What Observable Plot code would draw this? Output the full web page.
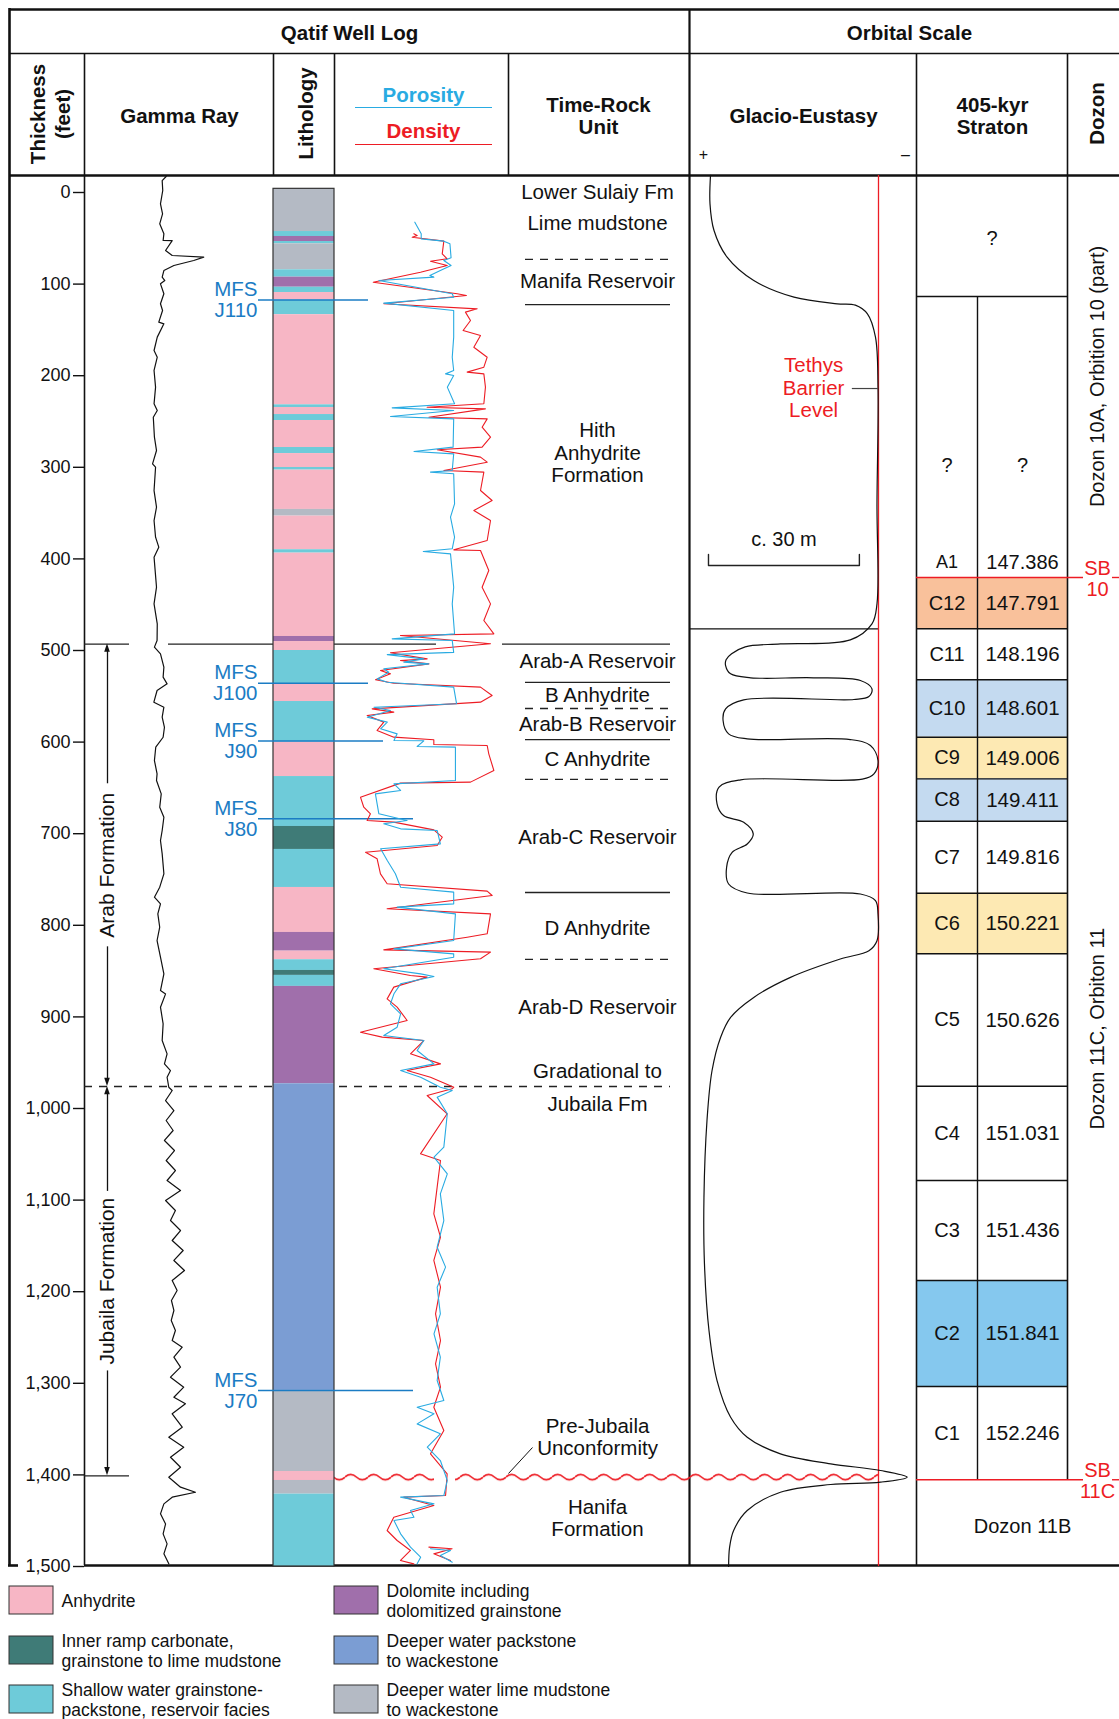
<!DOCTYPE html>
<html><head><meta charset="utf-8">
<script src="https://cdn.jsdelivr.net/npm/d3@7"></script>
<script src="https://cdn.jsdelivr.net/npm/@observablehq/plot@0.6"></script>
<style>
body{margin:0;background:#fff;}
#chart{position:relative;width:1119px;height:1719px;overflow:hidden;}
#chart svg{position:absolute;top:0;}
</style></head><body><div id="chart"></div>
<script>
// ---------------- DATA ----------------
const depthTicks = [0,100,200,300,400,500,600,700,800,900,1000,1100,1200,1300,1400,1500];

const lithology = [
 {top:-4,base:42.6,facies:"mudstone"},{top:42.6,base:48,facies:"shallow"},{top:48,base:53.5,facies:"dolomite"},
 {top:53.5,base:56,facies:"shallow"},{top:56,base:84.4,facies:"mudstone"},{top:84.4,base:92.4,facies:"shallow"},
 {top:92.4,base:103.4,facies:"dolomite"},{top:103.4,base:109.2,facies:"shallow"},{top:109.2,base:117.4,facies:"anhydrite"},
 {top:117.4,base:133.4,facies:"shallow"},{top:133.4,base:231.8,facies:"anhydrite"},{top:231.8,base:234.7,facies:"shallow"},
 {top:234.7,base:242.4,facies:"anhydrite"},{top:242.4,base:248.9,facies:"shallow"},{top:248.9,base:278.4,facies:"anhydrite"},
 {top:278.4,base:285,facies:"shallow"},{top:285,base:300.2,facies:"anhydrite"},{top:300.2,base:303.1,facies:"shallow"},
 {top:303.1,base:346,facies:"anhydrite"},{top:346,base:353.3,facies:"mudstone"},{top:353.3,base:390,facies:"anhydrite"},
 {top:390,base:393.7,facies:"shallow"},{top:393.7,base:484.7,facies:"anhydrite"},{top:484.7,base:490.2,facies:"dolomite"},
 {top:490.2,base:500,facies:"anhydrite"},{top:500,base:536.4,facies:"shallow"},{top:536.4,base:555.7,facies:"anhydrite"},
 {top:555.7,base:600.1,facies:"shallow"},{top:600.1,base:637.6,facies:"anhydrite"},{top:637.6,base:692.1,facies:"shallow"},
 {top:692.1,base:717.2,facies:"innerRamp"},{top:717.2,base:758.7,facies:"shallow"},{top:758.7,base:807.8,facies:"anhydrite"},
 {top:807.8,base:828.2,facies:"dolomite"},{top:828.2,base:837.6,facies:"anhydrite"},{top:837.6,base:849.3,facies:"shallow"},
 {top:849.3,base:854.7,facies:"innerRamp"},{top:854.7,base:866.7,facies:"shallow"},{top:866.7,base:973,facies:"dolomite"},
 {top:973,base:1307.8,facies:"packstone"},{top:1307.8,base:1396.3,facies:"mudstone"},{top:1396.3,base:1406.1,facies:"anhydrite"},
 {top:1406.1,base:1421,facies:"mudstone"},{top:1421,base:1500,facies:"shallow"}
];

const legendOrder = ["anhydrite","innerRamp","shallow","dolomite","packstone","mudstone"];
const legendLabels = {
 anhydrite:"Anhydrite",
 innerRamp:"Inner ramp carbonate,\ngrainstone to lime mudstone",
 shallow:"Shallow water grainstone-\npackstone, reservoir facies",
 dolomite:"Dolomite including\ndolomitized grainstone",
 packstone:"Deeper water packstone\nto wackestone",
 mudstone:"Deeper water lime mudstone\nto wackestone"
};

// gamma ray [depth ft, API]
const gammaRay = [
 [-17.5,43.2],[-13,41.1],[-2.2,41.4],[12.4,40.2],[23.3,41.3],[34.2,39.8],[45.1,42],[52.4,41.6],[52.6,46.4],[63.3,42.9],
 [68.8,46.4],[70.6,63.1],[74.2,57.8],[79.7,47.3],[85.2,42],[92.4,41.1],[96.1,42.5],[99.7,40.2],[110.6,42],[121.5,40.2],
 [128.8,41.3],[141.5,39.3],[143.4,42],[157.9,38.5],[172.5,36.8],[179.8,38.5],[194.3,36.8],[212.5,37.6],[230.7,36.8],
 [238,38.5],[245.3,36.4],[267.1,37],[281.7,38.1],[296.2,36],[299.9,37.6],[325.4,36.8],[343.5,38.1],[358.1,36.8],
 [376.3,37.6],[387.2,39.3],[398.1,36.8],[430.9,38.1],[449.1,36.8],[470.9,38.5],[489.1,38.4],[496.3,37],[503.6,40.2],
 [518.2,42],[529.1,41.6],[536.4,43.7],[543.7,38.4],[556.4,36.7],[561.9,42],[572.8,41.1],[583.8,42.3],[594.7,41.6],
 [605.6,37.7],[620.1,37],[634.7,38.4],[642,38.1],[656.5,40.6],[671.1,39.8],[682,42],[696.5,41.1],[707.4,40.2],
 [722,41.1],[743.8,42],[758.4,39.8],[769.3,37],[776.6,40.2],[787.5,38.8],[802.1,39.8],[816.6,38.4],[834.8,40.2],
 [853,42],[871.2,40.2],[874.9,42.9],[889.4,40.2],[907.6,41.6],[925.8,41.1],[940.4,43.7],[951.3,42.3],[958.6,45.5],
 [965.9,43.7],[976.8,44.6],[980.3,46.4],[991.3,42.9],[1002.2,47.3],[1013.1,43.2],[1024,46.9],[1034.9,42.3],[1045.9,47.6],
 [1056.8,43.2],[1067.7,48.1],[1078.6,43.7],[1089.5,50.8],[1100.4,42.9],[1111.4,48.1],[1122.3,45.5],[1133.2,50.8],
 [1144.1,46.4],[1155,52.2],[1165.9,47.3],[1176.9,52.9],[1187.8,46.4],[1198.7,49],[1209.6,46],[1220.5,47.3],
 [1231.4,45.9],[1242.4,48.1],[1253.3,46.4],[1260.6,51.7],[1271.5,47.3],[1282.4,50.8],[1293.3,45.5],[1304.2,52.5],
 [1315.2,47.3],[1322.4,53.4],[1333.3,46.4],[1347.9,51.7],[1358.8,44.6],[1369.8,52.5],[1380.7,45.5],[1391.6,50.8],
 [1402.5,44.6],[1413.4,50.8],[1418.9,58.7],[1424.3,46.4],[1431.6,42],[1442.5,40.2],[1453.5,42.9],[1464.4,41.6],
 [1475.3,43.7],[1486.2,42],[1497.1,44.6]
];

// neutron porosity [depth ft, v/v] (NaN pair = break)
const porosity = [
 [32.4,0.173],[45.1,0.151],[50.6,0.151],[53.1,0.073],[56,0.052],[71.3,0.048],[74.2,0.073],[79.7,0.048],[85.2,0.085],
 [90.6,0.121],[92.4,0.107],[96.1,0.297],[110.6,0.044],[114.3,0.039],[120.8,0.28],[128.8,0.039],[157.9,0.039],
 [179.8,0.044],[194.3,0.039],[198,0.067],[199.8,0.039],[212.5,0.061],[230.7,0.036],[235.1,0.251],[238,0.039],
 [244.5,0.257],[247.1,0.039],[278,0.041],[282.8,0.176],[285.3,0.039],[303.5,0.044],[305.3,0.119],[307.1,0.039],
 [339.9,0.036],[354.4,0.05],[376.3,0.036],[389,0.044],[391.9,0.144],[394.5,0.05],[430.9,0.039],[449.1,0.044],
 [481.8,0.036],[487.3,0.251],[489.1,0.044],[502,0.039],[504.5,0.268],[509.1,0.142],[512.7,0.211],[514.6,0.125],
 [520,0.28],[523.7,0.263],[531,0.303],[534.6,0.268],[540,0.039],[558.2,0.029],[561.9,0.314],[565.5,0.257],
 [572.8,0.337],[578.2,0.268],[585.5,0.291],[591,0.234],[598.3,0.245],[598.6,0.142],[604.8,0.165],[605.5,0.033],
 [641.9,0.033],[645.6,0.245],[652.8,0.222],[656.5,0.309],[678.3,0.297],[685.6,0.2],[689.2,0.28],[694.7,0.222],
 [696.5,0.096],[711.1,0.085],[716.5,0.291],[729.3,0.268],[743.8,0.24],[758.4,0.222],[763.8,0.039],[776.6,0.039],
 [780.2,0.234],[787.5,0.033],[816.6,0.039],[825.7,0.245],[831.2,0.039],[834.8,0.039],[847.5,0.28],[853,0.153],
 [855.9,0.107],[863.9,0.222],[874.8,0.245],[885.7,0.257],[896.6,0.222],[911.2,0.234],[920.3,0.28],[925.8,0.142],
 [936.7,0.165],[951.3,0.107],[958.5,0.222],[965.8,0.153],[976.7,0.085],[980.3,0.044],[987.6,0.096],[1005.8,0.061],
 [1042.2,0.073],[1053.1,0.107],[1071.3,0.061],[1093.2,0.085],[1122.3,0.073],[1151.4,0.096],[1173.2,0.067],
 [1195.1,0.096],[1224.2,0.085],[1246,0.107],[1271.5,0.085],[1296.9,0.096],[1318.8,0.073],[1326.1,0.165],
 [1333.3,0.107],[1344.3,0.165],[1355.2,0.085],[1369.7,0.13],[1384.3,0.085],[1406.1,0.061],[1422.5,0.073],
 [1424.3,0.222],[1431.6,0.107],[1438.9,0.188],[1446.2,0.176],[1449.8,0.245],[1464.3,0.222],[1478.9,0.188],
 [1489.8,0.153],[1497.1,0.165],[NaN,NaN],[1480.7,0.119],[1482.5,0.05],[1488,0.085],[1495.3,0.044]
];

// bulk density [depth ft, g/cc]
const density = [
 [45.1,2.447],[46.9,2.47],[48.8,2.436],[53.1,2.654],[67,2.643],[72.4,2.677],[75,2.562],[79.7,2.677],[87,2.493],
 [97.9,2.167],[110.6,2.746],[112.4,2.81],[121.5,2.24],[127,2.884],[130.6,2.803],[139.7,2.838],[150.7,2.787],
 [156.1,2.907],[168.9,2.861],[179.8,2.953],[190.7,2.93],[196.1,2.815],[198,2.93],[212.5,2.941],[230.7,2.93],
 [234.4,2.539],[236.2,2.941],[245.3,2.551],[247.1,2.953],[256.2,2.918],[267.1,2.976],[278,2.918],[280.9,2.608],
 [288.9,2.907],[294.4,2.953],[303.5,2.654],[305.3,2.93],[325.3,2.907],[336.2,2.987],[347.2,2.861],[358.1,2.976],
 [379.9,2.953],[390.1,2.723],[390.8,2.907],[412.7,2.964],[430.9,2.918],[449.1,2.976],[467.2,2.93],[481.8,2.999],
 [483.6,2.355],[492.7,2.976],[502.5,2.286],[509.1,2.539],[510.9,2.355],[514.6,2.551],[521.8,2.217],[525.5,2.286],
 [532,2.183],[535.7,2.309],[540,2.907],[549.1,2.987],[556.4,2.907],[563.7,2.16],[567.3,2.309],[571,2.125],
 [578.2,2.24],[587.3,2.194],[594.6,2.309],[597.5,2.585],[602.6,2.585],[603.7,2.953],[612.8,2.964],[631,2.999],
 [643.7,2.838],[644.8,2.355],[660.1,2.079],[671.1,2.102],[678.3,2.148],[685.6,2.125],[687.4,2.309],[695.8,2.585],
 [703.8,2.643],[712.9,2.608],[720.2,2.114],[727.4,2.194],[743.8,2.217],[754.7,2.263],[762.7,2.953],[767.5,2.987],
 [782,2.263],[787.5,2.976],[809.3,2.953],[813,2.815],[826.8,2.24],[829.3,2.976],[836.6,2.907],[847.5,2.171],
 [854.8,2.424],[856.6,2.539],[867.5,2.309],[880.3,2.263],[889.4,2.332],[903.9,2.401],[916.7,2.079],[922.1,2.229],
 [925.8,2.516],[940.3,2.424],[951.3,2.631],[958.5,2.401],[965.8,2.562],[976.7,2.723],[978.5,2.711],[985.8,2.539],
 [1005.8,2.677],[1049.5,2.493],[1056.8,2.631],[1085.9,2.608],[1115,2.585],[1140.5,2.631],[1165.9,2.585],
 [1195.1,2.631],[1224.2,2.597],[1253.3,2.631],[1278.8,2.597],[1304.2,2.631],[1326.1,2.585],[1351.5,2.654],
 [1377,2.562],[1398.8,2.677],[1422.5,2.666],[1424.3,2.378],[1433.4,2.585],[1446.2,2.309],[1460.7,2.263],
 [1471.6,2.332],[1482.5,2.424],[1493.4,2.355],[1497.1,2.447],[NaN,NaN],[1478.9,2.551],[1480.7,2.711],
 [1486.2,2.585],[1493.4,2.7]
];

// glacio-eustasy [depth ft, metres above Tethys barrier level]
const eustasy = [
 [-18.6,33.4],[12.4,33.5],[41.5,32.7],[70.6,30.1],[96.1,24.8],[114.3,16.8],[121.5,8.2],[123,4.6],[132.5,2.2],[158,0.6],
 [212.5,0.1],[339.9,0.3],[449.1,0.3],[470.9,1.3],[488.4,5.6],[492.8,19.5],[496,26.5],[503.6,29.2],[510,30.3],
 [516.4,30.4],[525.5,29.4],[529.8,25.4],[529.8,12.9],[532.8,3.6],[541.9,1.3],[550.3,1.9],[553.5,4.9],[553.9,26.8],
 [563.8,30.4],[576.4,30.9],[591,29.8],[596.5,26.1],[597.2,5.6],[603.8,1.6],[620.1,0.1],[634.7,0.9],[640.5,3.2],
 [641.2,27.4],[649.2,31.7],[667.5,32.1],[680.2,30.8],[687.5,26.8],[700.2,24.9],[711.2,26.1],[720.3,29.1],
 [736.7,30.2],[754.9,29.8],[764.7,26.1],[765.8,3.6],[773.1,0.6],[787.7,0.1],[816.8,0.3],[827.7,1.9],[836.8,7.6],
 [856.8,17.5],[878.7,24.8],[900.5,29.4],[922.4,31.4],[958.8,33.1],[1013.3,34.1],[1096.8,34.7],[1169.6,34.6],
 [1242.4,33.7],[1297,32.1],[1337,29.4],[1358.8,26.1],[1377,19.5],[1387.9,9.5],[1395.2,-0.4],[1402.5,-5.7],
 [1407.9,-0.4],[1410.5,9.5],[1418.9,19.5],[1438.9,26.1],[1460.7,28.8],[1478.9,29.6],[1500,29.8]
];
const scaleBarMetres = 30;

const mfs = [
 {name:"J110",depth:117.4},{name:"J100",depth:535.7},{name:"J90",depth:598.7},{name:"J80",depth:683.8},{name:"J70",depth:1307.8}
];

const timeRockLabels = [
 {text:"Lower Sulaiy Fm",depth:-1.1},{text:"Lime mudstone",depth:32.8},{text:"Manifa Reservoir",depth:96.1},
 {text:"Hith\nAnhydrite\nFormation",depth:283.8},{text:"Arab-A Reservoir",depth:510.9},{text:"B Anhydrite",depth:548},
 {text:"Arab-B Reservoir",depth:579.7},{text:"C Anhydrite",depth:617.9},{text:"Arab-C Reservoir",depth:703},
 {text:"D Anhydrite",depth:802.4},{text:"Arab-D Reservoir",depth:888.6},{text:"Gradational to",depth:958.5},
 {text:"Jubaila Fm",depth:994.5},{text:"Pre-Jubaila\nUnconformity",depth:1358.6},{text:"Hanifa\nFormation",depth:1447}
];
const timeRockBounds = [
 {depth:73.1,kind:"gradational"},{depth:122.3,kind:"sharp"},{depth:534.9,kind:"sharp"},{depth:563.3,kind:"gradational"},
 {depth:597.2,kind:"sharp"},{depth:640.8,kind:"gradational"},{depth:764.2,kind:"sharp"},{depth:837.3,kind:"gradational"}
];
const formations = [
 {name:"Arab Formation",top:493,base:976},
 {name:"Jubaila Formation",top:976,base:1401}
];
const unconformityDepth = 1403;

const stratons = [
 {code:"C12",age:"147.791",top:420.3,base:476.3,tone:"orange"},
 {code:"C11",age:"148.196",top:476.3,base:532,tone:null},
 {code:"C10",age:"148.601",top:532,base:594.7,tone:"lightblue"},
 {code:"C9",age:"149.006",top:594.7,base:640.1,tone:"yellow"},
 {code:"C8",age:"149.411",top:640.1,base:686.4,tone:"lightblue"},
 {code:"C7",age:"149.816",top:686.4,base:765,tone:null},
 {code:"C6",age:"150.221",top:765,base:831.1,tone:"yellow"},
 {code:"C5",age:"150.626",top:831.1,base:975.7,tone:null},
 {code:"C4",age:"151.031",top:975.7,base:1078.6,tone:null},
 {code:"C3",age:"151.436",top:1078.6,base:1187.8,tone:null},
 {code:"C2",age:"151.841",top:1187.8,base:1303.5,tone:"blue"},
 {code:"C1",age:"152.246",top:1303.5,base:1405.3,tone:null}
];
const upperStraton = {code:"A1",age:"147.386",top:113.5,base:420.3,labelDepth:403.9};
const unknownInterval = {top:-18.6,base:113.5};
const dozons = [
 {label:"Dozon 10A, Orbition 10 (part)",top:-18.6,base:420.3},
 {label:"Dozon 11C, Orbiton 11",top:420.3,base:1405.3},
 {label:"Dozon 11B",top:1405.3,base:1500}
];
const sequenceBoundaries = [{label:"SB\n10",depth:420.3},{label:"SB\n11C",depth:1405.3}];

// ---------------- STYLE / LAYOUT ----------------
const W = 1119, H = 1719, Y0 = 192, K = 0.916;
const yDomain = [-Y0 / K, (H - Y0) / K];
const Y = px => (px - Y0) / K;          // layout pixel -> depth units
const FONT = "'Liberation Sans', Arial, Helvetica, sans-serif";
const RED = "#ed1c24", BLUE = "#29abe2", MFSBLUE = "#1b7cc4";
const faciesColor = {anhydrite:"#f7b6c5",innerRamp:"#3f7b77",shallow:"#6ecbd9",dolomite:"#a06fab",packstone:"#7b9dd3",mudstone:"#b4bac4"};
const toneColor = {orange:"#f9c19b",lightblue:"#c4daf0",yellow:"#fde9b3",blue:"#85c8ee"};
const C = {left:9,thick:84,l0:273,l1:334,p1:508,t1:689,g1:916,s:977,s1:1067,right:1119};
const mfsEnd = {J110:368,J100:368,J90:383,J80:413,J70:413};
const arrowX = 107;

// frame lines
const hLines = [
 {y:9,x1:C.left,x2:C.right,w:2.6},{y:53,x1:C.left,x2:C.right,w:1.6},{y:175,x1:C.left,x2:C.right,w:2.6},
 {y:1565,x1:C.thick,x2:C.right,w:2.6},{y:1565,x1:C.left-1,x2:18,w:2.6},
 {y:296,x1:C.g1,x2:C.s1,w:1.4},{y:628.4,x1:C.t1,x2:878,w:1.4}
];
const vLines = [
 {x:C.left,y1:8,y2:1566,w:2.6},{x:C.t1,y1:9,y2:1565,w:2.2},
 {x:C.thick,y1:53,y2:1565,w:1.6},{x:C.l0,y1:53,y2:175,w:1.6},{x:C.l1,y1:53,y2:175,w:1.6},
 {x:C.p1,y1:53,y2:175,w:1.6},{x:C.g1,y1:53,y2:1565,w:1.6},{x:C.s1,y1:53,y2:1479.3,w:1.6},
 {x:C.s,y1:296,y2:1479.3,w:1.4}
];

const marks = [];
// straton fills
marks.push(Plot.rect(stratons.filter(d=>d.tone), {x1:C.g1, x2:C.s1, y1:"top", y2:"base", fill:d=>toneColor[d.tone]}));
marks.push(Plot.ruleY(stratons.slice(1), {y:"top", x1:C.g1, x2:C.s1, stroke:"#111", strokeWidth:1.4}));
// frame
marks.push(Plot.ruleY(hLines, {y:d=>Y(d.y), x1:"x1", x2:"x2", strokeWidth:"w", stroke:"#111"}));
marks.push(Plot.ruleX(vLines, {x:"x", y1:d=>Y(d.y1), y2:d=>Y(d.y2), strokeWidth:"w", stroke:"#111"}));

// depth axis
marks.push(Plot.ruleY(depthTicks, {x1:73, x2:C.thick, stroke:"#111", strokeWidth:1.4}));
marks.push(Plot.text(depthTicks, {x:70, y:d=>d, text:d=>d3.format(",")(d), textAnchor:"end", fontSize:18, fill:"#111"}));

// formation boundaries
const f0 = formations[0], f1 = formations[1];
marks.push(Plot.ruleY([f0.top], {x1:C.thick, x2:129, stroke:"#222", strokeWidth:1.3}));
marks.push(Plot.ruleY([f0.top], {x1:168, x2:436, stroke:"#222", strokeWidth:1.3}));
marks.push(Plot.ruleY([f0.top], {x1:502, x2:670, stroke:"#222", strokeWidth:1.3}));
marks.push(Plot.ruleY([f1.top], {x1:C.thick, x2:670, stroke:"#222", strokeWidth:1.3, strokeDasharray:"8,7"}));
marks.push(Plot.ruleY([f1.base], {x1:C.thick, x2:129, stroke:"#222", strokeWidth:1.3}));
// formation arrows
const gapHalf = {"Arab Formation":89, "Jubaila Formation":98};
formations.forEach(f => {
  const mid = (f.top + f.base) / 2, g = gapHalf[f.name];
  marks.push(Plot.ruleX([arrowX], {y1:f.top + 6, y2:mid - g, stroke:"#111", strokeWidth:1.3}));
  marks.push(Plot.ruleX([arrowX], {y1:mid + g, y2:f.base - 6, stroke:"#111", strokeWidth:1.3}));
  marks.push(Plot.text([f], {x:arrowX, y:mid, text:"name", rotate:-90, fontSize:21, fill:"#111"}));
});
const heads = [];
formations.forEach((f, i) => {
  heads.push({z:"t"+i, y:f.top, x1:arrowX, x2:arrowX}, {z:"t"+i, y:f.top + 9, x1:arrowX-2.8, x2:arrowX+2.8});
  heads.push({z:"b"+i, y:f.base - 9, x1:arrowX-2.8, x2:arrowX+2.8}, {z:"b"+i, y:f.base, x1:arrowX, x2:arrowX});
});
marks.push(Plot.areaX(heads, {y:"y", x1:"x1", x2:"x2", z:"z", fill:"#111"}));

// time-rock units
marks.push(Plot.ruleY(timeRockBounds.filter(d=>d.kind === "sharp"), {y:"depth", x1:525, x2:670, stroke:"#222", strokeWidth:1.3}));
marks.push(Plot.ruleY(timeRockBounds.filter(d=>d.kind === "gradational"), {y:"depth", x1:525, x2:670, stroke:"#222", strokeWidth:1.3, strokeDasharray:"8,7"}));
marks.push(Plot.text(timeRockLabels, {x:597, y:"depth", text:"text", fontSize:20.5, lineHeight:1.08, fill:"#111"}));
marks.push(Plot.link([0], {x1:508, y1:Y(1473), x2:532, y2:Y(1447), stroke:"#111", strokeWidth:1}));

// unconformity (wavy)
const waveHalf = 6 / K;
marks.push(Plot.rect([{a:334,b:434},{a:455,b:878}], {x1:"a", x2:"b", y1:unconformityDepth - waveHalf, y2:unconformityDepth + waveHalf, fill:"url(#wave)"}));

// lithology
marks.push(Plot.rect(lithology, {x1:C.l0, x2:C.l1, y1:"top", y2:"base", fill:d=>faciesColor[d.facies]}));
marks.push(Plot.rect([lithology[0]], {x1:C.l0, x2:C.l1, y1:lithology[0].top, y2:1500, fill:"none", stroke:"#333", strokeWidth:1.2}));

// MFS
marks.push(Plot.ruleY(mfs, {y:"depth", x1:258, x2:d=>mfsEnd[d.name], stroke:MFSBLUE, strokeWidth:1.5}));
marks.push(Plot.text(mfs, {x:257, y:"depth", text:d=>"MFS\n"+d.name, textAnchor:"end", fontSize:20.5, lineHeight:1.02, fill:MFSBLUE}));

// straton column text
marks.push(Plot.text([unknownInterval], {x:(C.g1+C.s1)/2, y:50.2, text:()=>"?", fontSize:20, fill:"#111"}));
marks.push(Plot.text([upperStraton], {x:(C.g1+C.s)/2, y:298, text:()=>"?", fontSize:20, fill:"#111"}));
marks.push(Plot.text([upperStraton], {x:(C.s+C.s1)/2, y:298, text:()=>"?", fontSize:20, fill:"#111"}));
marks.push(Plot.text([upperStraton], {x:(C.g1+C.s)/2, y:"labelDepth", text:"code", fontSize:18, fill:"#111"}));
marks.push(Plot.text([upperStraton], {x:(C.s+C.s1)/2, y:"labelDepth", text:"age", fontSize:20, fill:"#111"}));
marks.push(Plot.text(stratons, {x:(C.g1+C.s)/2, y:d=>(d.top+d.base)/2, text:"code", fontSize:20, fill:"#111"}));
marks.push(Plot.text(stratons, {x:(C.s+C.s1)/2, y:d=>(d.top+d.base)/2, text:"age", fontSize:20.5, fill:"#111"}));
// sequence boundaries
marks.push(Plot.ruleY(sequenceBoundaries, {y:"depth", x1:C.g1, x2:1083, stroke:RED, strokeWidth:1.4}));
marks.push(Plot.ruleY(sequenceBoundaries, {y:"depth", x1:1112, x2:C.right, stroke:RED, strokeWidth:1.4}));
marks.push(Plot.text(sequenceBoundaries, {x:1097, y:d=>d.depth+1, text:"label", fontSize:20, lineHeight:1.08, fill:RED}));
// dozons
marks.push(Plot.text(dozons.slice(0,2), {x:1097, y:d=>(d.top+d.base)/2, text:"label", rotate:-90, fontSize:20, fill:"#111"}));
marks.push(Plot.text(dozons.slice(2), {x:(C.s+C.s1)/2, y:1456.3, text:"label", fontSize:20, fill:"#111"}));

// headers
const hdr = (text, x, ypx, o = {}) => Plot.text([text], {x, y:Y(ypx), text:d=>d, fontSize:20.5, fontWeight:"bold", fill:"#111", lineHeight:1.08, ...o});
marks.push(hdr("Qatif Well Log", 349, 32));
marks.push(hdr("Orbital Scale", 909, 32));
marks.push(hdr("Thickness\n(feet)", 49, 113.5, {rotate:-90, lineHeight:1.2}));
marks.push(hdr("Gamma Ray", 179, 115));
marks.push(hdr("Lithology", 305, 113, {rotate:-90}));
marks.push(hdr("Porosity", 423, 94, {fill:BLUE}));
marks.push(hdr("Density", 423, 130, {fill:RED}));
marks.push(Plot.ruleY([Y(107)], {x1:355, x2:492, stroke:BLUE, strokeWidth:1.2}));
marks.push(Plot.ruleY([Y(144)], {x1:355, x2:492, stroke:RED, strokeWidth:1.2}));
marks.push(hdr("Time-Rock\nUnit", 598, 115));
marks.push(hdr("Glacio-Eustasy", 803, 115));
marks.push(hdr("405-kyr\nStraton", 992, 115));
marks.push(hdr("Dozon", 1096, 113, {rotate:-90}));
marks.push(Plot.text(["+"], {x:703, y:Y(154), text:d=>d, fontSize:16, fill:"#111"}));
marks.push(Plot.text(["–"], {x:905, y:Y(154), text:d=>d, fontSize:16, fill:"#111"}));

// legend
const legendItems = legendOrder.map((k, i) => ({key:k, col:Math.floor(i/3), row:i%3}));
const legX = [9, 334], legY = [1586, 1636, 1685];
marks.push(Plot.rect(legendItems, {x1:d=>legX[d.col], x2:d=>legX[d.col]+44, y1:d=>Y(legY[d.row]), y2:d=>Y(legY[d.row]+28),
  fill:d=>faciesColor[d.key], stroke:"#333", strokeWidth:1}));
marks.push(Plot.text(legendItems, {x:d=>legX[d.col]+52, y:d=>Y(legY[d.row]+14.5), text:d=>legendLabels[d.key],
  textAnchor:"start", fontSize:17.5, lineHeight:1.12, fill:"#111"}));

const main = Plot.plot({
  width:W, height:H, margin:0,
  x:{domain:[0,W], range:[0,W], axis:null},
  y:{domain:yDomain, range:[0,H], axis:null},
  color:{type:"identity"},
  style:{fontFamily:FONT, background:"white", overflow:"visible"},
  marks
});
// wavy pattern for the unconformity
{
  const ns = "http://www.w3.org/2000/svg";
  const yc = main.scale("y").apply(unconformityDepth);
  const defs = document.createElementNS(ns, "defs");
  const pat = document.createElementNS(ns, "pattern");
  pat.setAttribute("id", "wave"); pat.setAttribute("patternUnits", "userSpaceOnUse");
  pat.setAttribute("width", "23"); pat.setAttribute("height", "12");
  pat.setAttribute("x", "0"); pat.setAttribute("y", String(yc - 6));
  const p = document.createElementNS(ns, "path");
  p.setAttribute("d", "M0,6 Q5.75,0.6 11.5,6 T23,6");
  p.setAttribute("fill", "none"); p.setAttribute("stroke", RED); p.setAttribute("stroke-width", "1.7");
  pat.appendChild(p); defs.appendChild(pat); main.insertBefore(defs, main.firstChild);
}
main.style.left = "0px";
const chart = document.getElementById("chart");
chart.appendChild(main);

// ---------------- TRACKS ----------------
function track(left, width, xDomain, trackMarks) {
  const svg = Plot.plot({
    width, height:H, margin:0,
    x:{domain:xDomain, range:[0,width], axis:null},
    y:{domain:yDomain, range:[0,H], axis:null},
    style:{fontFamily:FONT, background:"transparent", overflow:"visible"},
    marks:trackMarks
  });
  svg.style.left = left + "px";
  svg.style.background = "transparent";
  chart.appendChild(svg);
}
// gamma ray (API 0–100 across the track)
track(C.thick, C.l0 - C.thick, [0, 100], [
  Plot.line(gammaRay, {x:d=>d[1], y:d=>d[0], stroke:"#111", strokeWidth:1.2})
]);
// density (1.9–3.1 g/cc)
track(C.l1, C.p1 - C.l1, [1.9, 3.1], [
  Plot.line(density, {x:d=>d[1], y:d=>d[0], stroke:RED, strokeWidth:1.1})
]);
// porosity (0.45 – -0.15)
track(C.l1, C.p1 - C.l1, [0.45, -0.15], [
  Plot.line(porosity, {x:d=>d[1], y:d=>d[0], stroke:BLUE, strokeWidth:1.1})
]);
// glacio-eustasy (metres relative to Tethys barrier level; + to the left)
const gW = C.g1 - C.t1, mPerPx = 1 / 5.03;
track(C.t1, gW, [(878 - C.t1) * mPerPx, (878 - C.g1) * mPerPx], [
  Plot.ruleX([0], {y1:Y(175), y2:1500, stroke:RED, strokeWidth:1.3}),
  Plot.line(eustasy, {x:d=>d[1], y:d=>d[0], curve:"catmull-rom", stroke:"#111", strokeWidth:1.2}),
  Plot.ruleY([214], {x1:5.2, x2:0, stroke:"#444", strokeWidth:1.2}),
  Plot.text(["Tethys\nBarrier\nLevel"], {x:12.9, y:212.9, text:d=>d, fontSize:20.5, lineHeight:1.08, fill:RED}),
  Plot.line([[33.8, Y(554)], [33.8, Y(565)], [33.8 - scaleBarMetres, Y(565)], [33.8 - scaleBarMetres, Y(554)]],
    {x:d=>d[0], y:d=>d[1], stroke:"#222", strokeWidth:1.4}),
  Plot.text(["c. " + scaleBarMetres + " m"], {x:33.8 - scaleBarMetres/2, y:Y(539), text:d=>d, fontSize:20, fill:"#111"})
]);
</script></body></html>
